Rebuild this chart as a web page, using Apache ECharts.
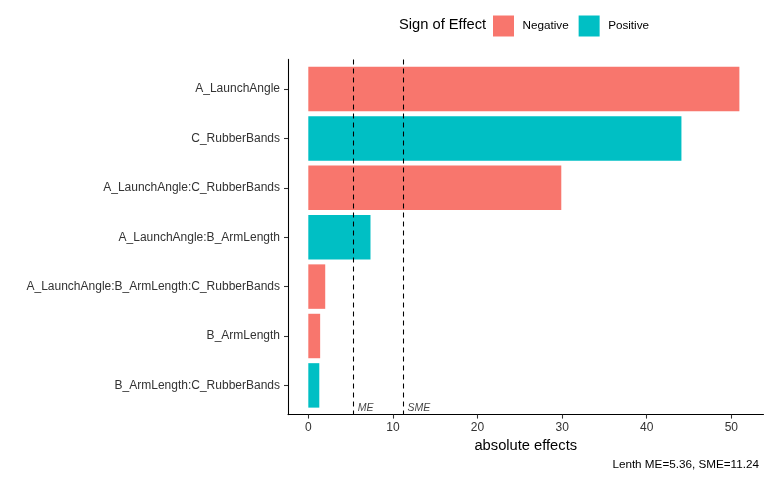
<!DOCTYPE html>
<html>
<head>
<meta charset="utf-8">
<script src="https://cdn.jsdelivr.net/npm/echarts@6/dist/echarts.min.js"></script>
<style>html,body{margin:0;padding:0;background:#fff}#c{width:768px;height:480px}</style>
</head>
<body>
<div id="c"></div>
<script>
const categories = ['A_LaunchAngle', 'C_RubberBands', 'A_LaunchAngle:C_RubberBands', 'A_LaunchAngle:B_ArmLength', 'A_LaunchAngle:B_ArmLength:C_RubberBands', 'B_ArmLength', 'B_ArmLength:C_RubberBands'];
const effects = [50.95, 44.1, 29.9, 7.35, 2.0, 1.4, 1.3];
const signs = ['Negative', 'Positive', 'Negative', 'Positive', 'Negative', 'Negative', 'Positive'];
const ME = 5.36;
const SME = 11.24;
const xTicks = [0, 10, 20, 30, 40, 50];
const refLabelY = 6.47;

const FONT = '"Liberation Sans", Arial, Helvetica, sans-serif';
const negData = effects.map((v, i) => signs[i] === 'Negative' ? v : '-');
const posData = effects.map((v, i) => signs[i] === 'Positive' ? v : '-');

const XMIN = -2.4, XMAX = 53.8;
const chart = echarts.init(document.getElementById('c'));
chart.setOption({
  animation: false,
  textStyle: { fontFamily: FONT },
  title: [
    { text: 'Sign of Effect', left: 399, top: 17, padding: 0,
      textStyle: { fontFamily: FONT, fontSize: 14.7, fontWeight: 'normal', color: '#000' } },
    { text: 'Lenth ME=5.36, SME=11.24', right: 9, top: 459, padding: 0,
      textStyle: { fontFamily: FONT, fontSize: 11.7, fontWeight: 'normal', color: '#000' } }
  ],
  legend: {
    left: 493, top: 15.5, padding: 0, icon: 'rect', itemWidth: 21, itemHeight: 21, itemGap: 10,
    data: ['Negative', 'Positive'],
    textStyle: { fontFamily: FONT, fontSize: 11.7, color: '#000', padding: [0, 0, 0, 3.5] }
  },
  grid: [
    { left: 288, right: 4.5, top: 64.3, height: 345.8, containLabel: false },
    { left: 288, right: 4.5, top: 59.4, height: 355.2, containLabel: false }
  ],
  xAxis: [
    { gridIndex: 0, type: 'value', min: XMIN, max: XMAX, show: false },
    { gridIndex: 1, type: 'value', min: XMIN, max: XMAX,
      axisLine: { show: true, onZero: false, lineStyle: { color: '#000', width: 1.07 } },
      axisTick: { show: true, length: 4, customValues: xTicks, lineStyle: { color: '#333', width: 1.07 } },
      axisLabel: { customValues: xTicks, margin: 7, fontSize: 12, color: '#333', fontFamily: FONT },
      splitLine: { show: false },
      name: 'absolute effects', nameLocation: 'middle', nameGap: 21,
      nameTextStyle: { fontSize: 14.7, color: '#000', fontFamily: FONT } }
  ],
  yAxis: [
    { gridIndex: 0, type: 'category', inverse: true, data: categories,
      axisLine: { show: false, onZero: false },
      axisTick: { show: true, length: 4, alignWithLabel: true, lineStyle: { color: '#333', width: 1.07 } },
      axisLabel: { margin: 8, fontSize: 12, color: '#333', fontFamily: FONT },
      splitLine: { show: false } },
    { gridIndex: 1, type: 'value', inverse: true, min: -0.6, max: 6.6,
      axisLine: { show: true, onZero: false, lineStyle: { color: '#000', width: 1.07 } },
      axisTick: { show: false }, axisLabel: { show: false }, splitLine: { show: false } }
  ],
  series: [
    { name: 'Negative', type: 'bar', xAxisIndex: 0, yAxisIndex: 0, data: negData,
      barWidth: '90%', barGap: '-100%', itemStyle: { color: '#F8766D' } },
    { name: 'Positive', type: 'bar', xAxisIndex: 0, yAxisIndex: 0, data: posData,
      barWidth: '90%', barGap: '-100%', itemStyle: { color: '#00BFC4' } },
    { name: 'ref', type: 'scatter', xAxisIndex: 1, yAxisIndex: 1, symbolSize: 0,
      data: [[ME, refLabelY, 'ME'], [SME, refLabelY, 'SME']],
      label: { show: true, position: 'right', distance: 4, formatter: p => p.data[2],
        fontStyle: 'italic', fontSize: 10.5, color: '#111', fontFamily: FONT },
      markLine: { silent: true, symbol: ['none', 'none'], label: { show: false },
        lineStyle: { color: '#000', width: 1.07, type: [5, 4] },
        data: [{ xAxis: ME }, { xAxis: SME }] } }
  ]
});
</script>
</body>
</html>
